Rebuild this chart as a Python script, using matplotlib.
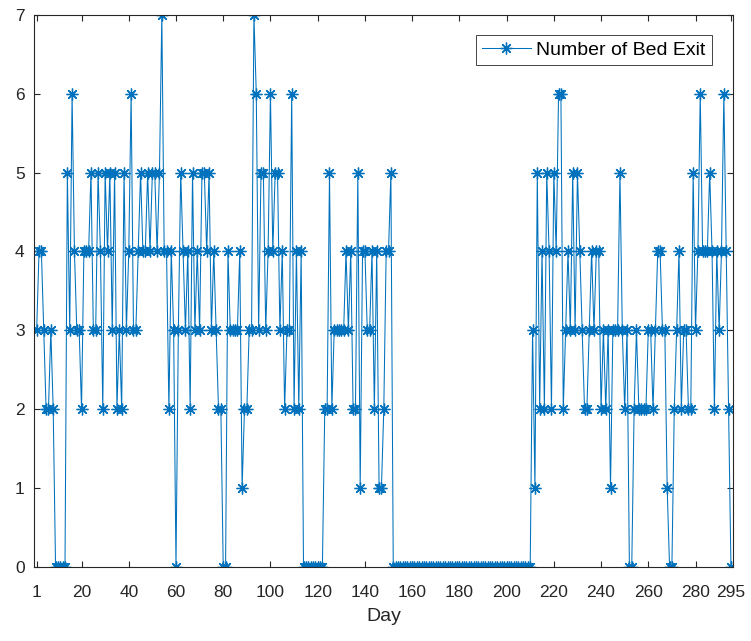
import matplotlib
matplotlib.use("Agg")
import matplotlib.pyplot as plt
import numpy as np

plt.rcParams['font.family'] = ['Liberation Sans', 'DejaVu Sans']

days = list(range(1, 296))
bed_exits = [
    3, 4, 4, 3, 2, 2, 3, 2, 0, 0,
    0, 0, 0, 5, 3, 6, 4, 3, 3, 2,
    4, 4, 4, 5, 3, 3, 5, 4, 2, 5,
    4, 5, 3, 5, 2, 3, 2, 5, 3, 4,
    6, 3, 3, 4, 5, 4, 4, 5, 4, 5,
    5, 4, 5, 7, 4, 4, 2, 4, 3, 0,
    3, 5, 4, 3, 4, 2, 5, 3, 4, 3,
    5, 5, 4, 5, 3, 4, 3, 2, 2, 0,
    0, 4, 3, 3, 3, 3, 4, 1, 2, 2,
    3, 3, 7, 6, 3, 5, 5, 3, 4, 6,
    4, 5, 5, 3, 4, 2, 3, 3, 6, 2,
    4, 2, 4, 0, 0, 0, 0, 0, 0, 0,
    0, 0, 2, 2, 5, 2, 3, 3, 3, 3,
    3, 4, 3, 4, 2, 2, 5, 1, 4, 4,
    3, 3, 4, 2, 4, 1, 1, 2, 4, 4,
    5, 0, 0, 0, 0, 0, 0, 0, 0, 0,
    0, 0, 0, 0, 0, 0, 0, 0, 0, 0,
    0, 0, 0, 0, 0, 0, 0, 0, 0, 0,
    0, 0, 0, 0, 0, 0, 0, 0, 0, 0,
    0, 0, 0, 0, 0, 0, 0, 0, 0, 0,
    0, 0, 0, 0, 0, 0, 0, 0, 0, 0,
    3, 1, 5, 2, 4, 2, 5, 4, 2, 5,
    4, 6, 6, 2, 3, 4, 3, 5, 3, 5,
    4, 3, 2, 2, 3, 4, 3, 4, 4, 2,
    3, 2, 3, 1, 3, 3, 3, 5, 3, 2,
    3, 0, 0, 2, 3, 2, 2, 2, 2, 3,
    3, 2, 3, 4, 4, 3, 3, 1, 0, 0,
    2, 3, 4, 2, 3, 3, 2, 2, 5, 3,
    4, 6, 4, 4, 4, 5, 4, 2, 4, 3,
    4, 6, 4, 2, 0,
]
xtick_vals = [1, 20, 40, 60, 80, 100, 120, 140, 160, 180, 200, 220, 240, 260, 280, 295]
ytick_vals = [0, 1, 2, 3, 4, 5, 6, 7]
series_label = "Number of Bed Exit"
xlabel = "Day"

W, H, DPI = 751, 641, 100
fig = plt.figure(figsize=(W / DPI, H / DPI), dpi=DPI)
ax = fig.add_axes([34.3 / W, 1 - 566.7 / H, (733.3 - 34.3) / W, (566.7 - 15) / H])

blue = '#0072BD'
ax.plot(days, bed_exits, color=blue, linewidth=0.75, marker=(8, 2, 0),
        markersize=8.5, markeredgewidth=0.95, label=series_label)

ax.set_xlim(0, 296)
ax.set_ylim(0, 7)
ax.set_xticks(xtick_vals)
ax.set_yticks(ytick_vals)
dark = '#262626'
ax.tick_params(direction='in', top=True, right=True, length=4, width=0.8,
               colors=dark, labelsize=12.5)
ax.tick_params(axis='x', pad=13)
ax.tick_params(axis='y', pad=7)
for s in ax.spines.values():
    s.set_color(dark)
    s.set_linewidth(0.8)
ax.set_xlabel(xlabel, fontsize=14, color=dark, labelpad=6)

leg = ax.legend(loc='upper right', bbox_to_anchor=(0.9695, 0.9638), borderaxespad=0,
                fontsize=14, handlelength=2.5, handletextpad=0.3, fancybox=False,
                framealpha=1, edgecolor=dark, borderpad=0.32)
leg.get_frame().set_linewidth(0.6)

fig.savefig('out.png', dpi=DPI)
